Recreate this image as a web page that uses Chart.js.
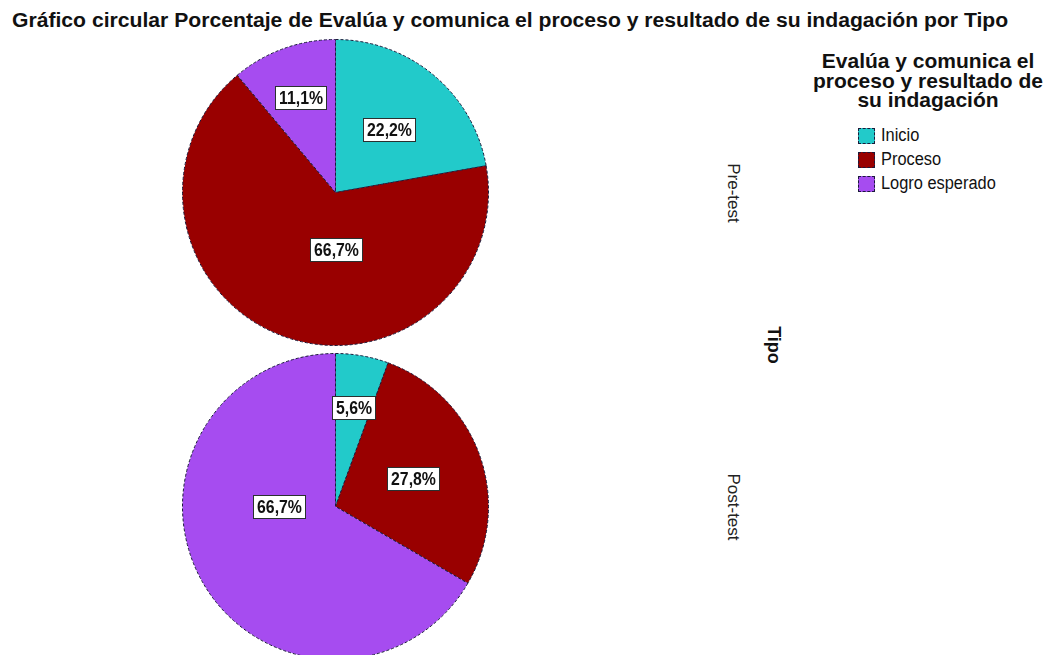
<!DOCTYPE html>
<html>
<head>
<meta charset="utf-8">
<script src="https://cdn.jsdelivr.net/npm/chart.js@4.4.0/dist/chart.umd.min.js"></script>
<style>
  body { margin: 0; width: 1048px; height: 655px; overflow: hidden; background: #fff; position: relative;
         font-family: "Liberation Sans", Arial, sans-serif; color: #111; }
  #title { position: absolute; left: 12px; top: 9px; font-weight: bold; font-size: 20px; white-space: nowrap;
           transform-origin: 0 0; }
  .pie { position: absolute; left: 182px; width: 307px; height: 307px; }
  #pre { top: 39px; }
  #post { top: 353px; }
  #legend { position: absolute; left: 800px; top: 51px; width: 256px; text-align: center; }
  #legend .head { font-weight: bold; font-size: 21px; line-height: 19.5px; }
  #legend ul { list-style: none; margin: 14px 0 0 58px; padding: 0; text-align: left; }
  #legend li { height: 24px; font-size: 18px; display: flex; align-items: center; white-space: nowrap; }
  #legend li span { display: inline-block; width: 15px; height: 14px; margin-right: 6px; border: 1px dashed #1a1a3a; }
  #legend li b { font-weight: normal; display: inline-block; transform: scaleX(0.91); transform-origin: 0 50%; }
  .side { position: absolute; white-space: nowrap; transform: translate(-50%, -50%) rotate(90deg); }
  .facet { font-size: 17px; color: #222; }
  #tipo { font-weight: bold; font-size: 18px; left: 773px; top: 345px; }
</style>
</head>
<body>
<div id="title">Gráfico circular Porcentaje de Evalúa y comunica el proceso y resultado de su indagación por Tipo</div>
<canvas id="pre" class="pie" width="307" height="307"></canvas>
<canvas id="post" class="pie" width="307" height="307"></canvas>
<div id="legend">
  <div class="head">Evalúa y comunica el<br>proceso y resultado de<br>su indagación</div>
  <ul id="legendItems"></ul>
</div>
<div class="side facet" id="lblPre" style="left:733px; top:193px;"></div>
<div class="side" id="tipo">Tipo</div>
<div class="side facet" id="lblPost" style="left:733px; top:507px;"></div>

<script>
const categories = ["Inicio", "Proceso", "Logro esperado"];
const groups = ["Pre-test", "Post-test"];
const preTest = [22.2, 66.7, 11.1];
const postTest = [5.6, 27.8, 66.7];
const sliceColors = ["#22caca", "#990000", "#a64cf0"];

const fmt = v => v.toFixed(1).replace(".", ",") + "%";

// white boxed percentage inside each slice
const sliceLabels = {
  id: "sliceLabels",
  afterDatasetsDraw(chart) {
    const ctx = chart.ctx;
    const values = chart.data.datasets[0].data;
    const squeeze = 0.88;
    ctx.save();
    ctx.font = "bold 18px 'Liberation Sans', Arial, sans-serif";
    ctx.textAlign = "center";
    ctx.textBaseline = "middle";
    chart.getDatasetMeta(0).data.forEach((arc, i) => {
      const p = arc.getProps(["x", "y", "startAngle", "endAngle", "outerRadius"], true);
      const share = values[i];
      let mid = (p.startAngle + p.endAngle) / 2;
      // big slices get their label on the nearest quarter direction
      if (share > 50) mid = Math.round(mid / (Math.PI / 2)) * (Math.PI / 2);
      const f = share < 15 ? 0.66 : share < 30 ? 0.54 : 0.37;
      const x = p.x + Math.cos(mid) * p.outerRadius * f;
      const y = p.y + Math.sin(mid) * p.outerRadius * f;
      const text = fmt(share);
      const w = Math.round(ctx.measureText(text).width * squeeze + 7);
      const h = 23;
      const bx = Math.round(x - w / 2), by = Math.round(y - h / 2);
      ctx.fillStyle = "#fff";
      ctx.fillRect(bx, by, w, h);
      ctx.strokeStyle = "#2a3030";
      ctx.lineWidth = 1;
      ctx.strokeRect(bx + 0.5, by + 0.5, w, h);
      ctx.save();
      ctx.translate(bx + w / 2 + 0.5, by + h / 2 + 1.5);
      ctx.scale(squeeze, 1);
      ctx.fillStyle = "#111";
      ctx.fillText(text, 0, 0);
      ctx.restore();
    });
    ctx.restore();
  }
};

function drawPie(id, values) {
  return new Chart(document.getElementById(id), {
    type: "pie",
    data: {
      labels: categories,
      datasets: [{
        data: values,
        backgroundColor: sliceColors,
        borderColor: "#1a1a3a",
        borderWidth: 1,
        borderDash: [3, 2]
      }]
    },
    options: {
      responsive: false,
      animation: false,
      layout: { padding: 0 },
      plugins: { legend: { display: false }, tooltip: { enabled: false } }
    },
    plugins: [sliceLabels]
  });
}

drawPie("pre", preTest);
drawPie("post", postTest);

document.getElementById("lblPre").textContent = groups[0];
document.getElementById("lblPost").textContent = groups[1];
document.getElementById("legendItems").innerHTML = categories
  .map((c, i) => `<li><span style="background:${sliceColors[i]}"></span><b>${c}</b></li>`)
  .join("");

// stretch the heading so it runs to the right edge
const title = document.getElementById("title");
title.style.transform = `scaleX(${996 / title.scrollWidth})`;
</script>
</body>
</html>
